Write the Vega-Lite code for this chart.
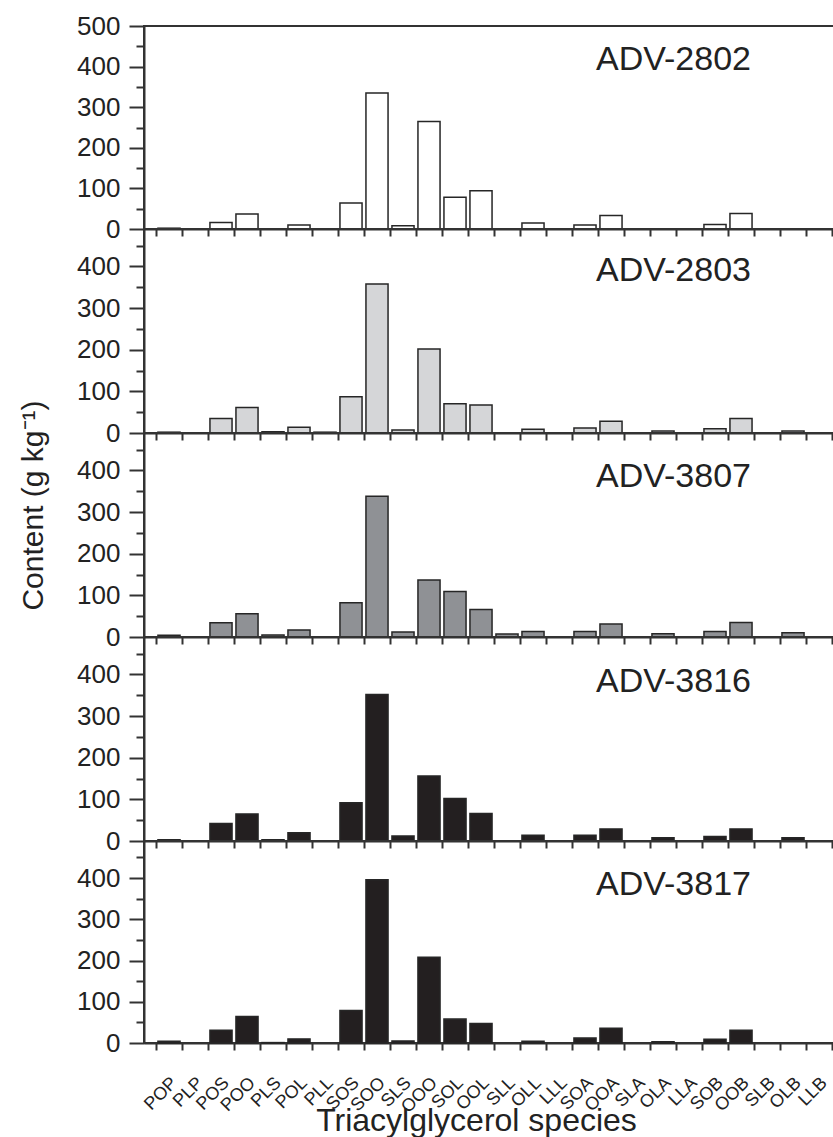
{
  "$schema": "https://vega.github.io/schema/vega-lite/v6.json",
  "padding": {"left": 17, "top": 12, "right": 0, "bottom": 0},
  "background": "white",
  "config": {
    "font": "Liberation Sans",
    "view": {"stroke": "#333", "strokeWidth": 2},
    "axis": {
      "domainColor": "#333", "domainWidth": 2, "tickColor": "#333", "tickWidth": 2,
      "labelFont": "Liberation Sans", "labelColor": "#222", "titleFont": "Liberation Sans",
      "titleColor": "#222", "titleFontWeight": "normal", "grid": false
    },
    "title": {"font": "Liberation Sans", "fontWeight": "normal", "color": "#222", "fontSize": 34}
  },
  "datasets": {
    "tag": [
      {"cultivar": "ADV-2802", "species": "POP", "content": 2},
      {"cultivar": "ADV-2802", "species": "POS", "content": 16},
      {"cultivar": "ADV-2802", "species": "POO", "content": 37},
      {"cultivar": "ADV-2802", "species": "POL", "content": 10},
      {"cultivar": "ADV-2802", "species": "SOS", "content": 64},
      {"cultivar": "ADV-2802", "species": "SOO", "content": 335},
      {"cultivar": "ADV-2802", "species": "SLS", "content": 8},
      {"cultivar": "ADV-2802", "species": "OOO", "content": 265},
      {"cultivar": "ADV-2802", "species": "SOL", "content": 78},
      {"cultivar": "ADV-2802", "species": "OOL", "content": 94},
      {"cultivar": "ADV-2802", "species": "OLL", "content": 15},
      {"cultivar": "ADV-2802", "species": "SOA", "content": 10},
      {"cultivar": "ADV-2802", "species": "OOA", "content": 33},
      {"cultivar": "ADV-2802", "species": "SOB", "content": 11},
      {"cultivar": "ADV-2802", "species": "OOB", "content": 38},

      {"cultivar": "ADV-2803", "species": "POP", "content": 2},
      {"cultivar": "ADV-2803", "species": "POS", "content": 35},
      {"cultivar": "ADV-2803", "species": "POO", "content": 61},
      {"cultivar": "ADV-2803", "species": "PLS", "content": 3},
      {"cultivar": "ADV-2803", "species": "POL", "content": 14},
      {"cultivar": "ADV-2803", "species": "PLL", "content": 2},
      {"cultivar": "ADV-2803", "species": "SOS", "content": 87},
      {"cultivar": "ADV-2803", "species": "SOO", "content": 358},
      {"cultivar": "ADV-2803", "species": "SLS", "content": 7},
      {"cultivar": "ADV-2803", "species": "OOO", "content": 202},
      {"cultivar": "ADV-2803", "species": "SOL", "content": 70},
      {"cultivar": "ADV-2803", "species": "OOL", "content": 67},
      {"cultivar": "ADV-2803", "species": "OLL", "content": 9},
      {"cultivar": "ADV-2803", "species": "SOA", "content": 12},
      {"cultivar": "ADV-2803", "species": "OOA", "content": 28},
      {"cultivar": "ADV-2803", "species": "OLA", "content": 5},
      {"cultivar": "ADV-2803", "species": "SOB", "content": 10},
      {"cultivar": "ADV-2803", "species": "OOB", "content": 35},
      {"cultivar": "ADV-2803", "species": "OLB", "content": 5},

      {"cultivar": "ADV-3807", "species": "POP", "content": 4},
      {"cultivar": "ADV-3807", "species": "POS", "content": 34},
      {"cultivar": "ADV-3807", "species": "POO", "content": 56},
      {"cultivar": "ADV-3807", "species": "PLS", "content": 5},
      {"cultivar": "ADV-3807", "species": "POL", "content": 17},
      {"cultivar": "ADV-3807", "species": "SOS", "content": 82},
      {"cultivar": "ADV-3807", "species": "SOO", "content": 338},
      {"cultivar": "ADV-3807", "species": "SLS", "content": 12},
      {"cultivar": "ADV-3807", "species": "OOO", "content": 137},
      {"cultivar": "ADV-3807", "species": "SOL", "content": 109},
      {"cultivar": "ADV-3807", "species": "OOL", "content": 66},
      {"cultivar": "ADV-3807", "species": "SLL", "content": 7},
      {"cultivar": "ADV-3807", "species": "OLL", "content": 13},
      {"cultivar": "ADV-3807", "species": "SOA", "content": 13},
      {"cultivar": "ADV-3807", "species": "OOA", "content": 31},
      {"cultivar": "ADV-3807", "species": "OLA", "content": 8},
      {"cultivar": "ADV-3807", "species": "SOB", "content": 13},
      {"cultivar": "ADV-3807", "species": "OOB", "content": 35},
      {"cultivar": "ADV-3807", "species": "OLB", "content": 10},

      {"cultivar": "ADV-3816", "species": "POP", "content": 3},
      {"cultivar": "ADV-3816", "species": "POS", "content": 42},
      {"cultivar": "ADV-3816", "species": "POO", "content": 65},
      {"cultivar": "ADV-3816", "species": "PLS", "content": 3},
      {"cultivar": "ADV-3816", "species": "POL", "content": 20},
      {"cultivar": "ADV-3816", "species": "SOS", "content": 92},
      {"cultivar": "ADV-3816", "species": "SOO", "content": 352},
      {"cultivar": "ADV-3816", "species": "SLS", "content": 12},
      {"cultivar": "ADV-3816", "species": "OOO", "content": 156},
      {"cultivar": "ADV-3816", "species": "SOL", "content": 102},
      {"cultivar": "ADV-3816", "species": "OOL", "content": 66},
      {"cultivar": "ADV-3816", "species": "OLL", "content": 14},
      {"cultivar": "ADV-3816", "species": "SOA", "content": 14},
      {"cultivar": "ADV-3816", "species": "OOA", "content": 29},
      {"cultivar": "ADV-3816", "species": "OLA", "content": 8},
      {"cultivar": "ADV-3816", "species": "SOB", "content": 11},
      {"cultivar": "ADV-3816", "species": "OOB", "content": 29},
      {"cultivar": "ADV-3816", "species": "OLB", "content": 8},

      {"cultivar": "ADV-3817", "species": "POP", "content": 4},
      {"cultivar": "ADV-3817", "species": "POS", "content": 31},
      {"cultivar": "ADV-3817", "species": "POO", "content": 64},
      {"cultivar": "ADV-3817", "species": "PLS", "content": 1},
      {"cultivar": "ADV-3817", "species": "POL", "content": 10},
      {"cultivar": "ADV-3817", "species": "SOS", "content": 79},
      {"cultivar": "ADV-3817", "species": "SOO", "content": 396},
      {"cultivar": "ADV-3817", "species": "SLS", "content": 5},
      {"cultivar": "ADV-3817", "species": "OOO", "content": 208},
      {"cultivar": "ADV-3817", "species": "SOL", "content": 58},
      {"cultivar": "ADV-3817", "species": "OOL", "content": 47},
      {"cultivar": "ADV-3817", "species": "OLL", "content": 4},
      {"cultivar": "ADV-3817", "species": "SOA", "content": 12},
      {"cultivar": "ADV-3817", "species": "OOA", "content": 36},
      {"cultivar": "ADV-3817", "species": "OLA", "content": 3},
      {"cultivar": "ADV-3817", "species": "SOB", "content": 9},
      {"cultivar": "ADV-3817", "species": "OOB", "content": 31}
    ]
  },
  "data": {"name": "tag"},
  "spacing": 0,
  "bounds": "flush",
  "vconcat": [
    {
      "width": 700, "height": 203,
      "title": {"text": "ADV-2802", "anchor": "end", "frame": "group", "baseline": "alphabetic", "offset": -91, "dx": -93},
      "transform": [{"filter": "datum.cultivar === 'ADV-2802'"}],
      "mark": {"type": "bar", "width": {"band": 0.85}, "fill": "#ffffff", "stroke": "#262626", "strokeWidth": 1.5},
      "encoding": {
        "x": {"field": "species", "type": "nominal",
          "scale": {"domain": ["POP","PLP","POS","POO","PLS","POL","PLL","SOS","SOO","SLS","OOO","SOL","OOL","SLL","OLL","LLL","SOA","OOA","SLA","OLA","LLA","SOB","OOB","SLB","OLB","LLB"], "paddingInner": 0, "paddingOuter": 0.4615},
          "axis": {"tickBand": "extent", "tickSize": 7, "labels": false, "title": null}},
        "y": {"field": "content", "type": "quantitative", "scale": {"domain": [0, 500], "nice": false},
          "axis": {"values": [0,50,100,150,200,250,300,350,400,450,500], "labelExpr": "datum.value % 100 === 0 ? datum.label : ''",
            "tickSize": {"condition": {"test": "datum.value % 100 === 0", "value": 15}, "value": 8},
            "labelFontSize": 26, "labelPadding": 9, "title": null}}
      }
    },
    {
      "width": 700, "height": 204,
      "title": {"text": "ADV-2803", "anchor": "end", "frame": "group", "baseline": "alphabetic", "offset": -86, "dx": -93},
      "transform": [{"filter": "datum.cultivar === 'ADV-2803'"}],
      "mark": {"type": "bar", "width": {"band": 0.85}, "fill": "#d5d6d8", "stroke": "#262626", "strokeWidth": 1.5},
      "encoding": {
        "x": {"field": "species", "type": "nominal",
          "scale": {"domain": ["POP","PLP","POS","POO","PLS","POL","PLL","SOS","SOO","SLS","OOO","SOL","OOL","SLL","OLL","LLL","SOA","OOA","SLA","OLA","LLA","SOB","OOB","SLB","OLB","LLB"], "paddingInner": 0, "paddingOuter": 0.4615},
          "axis": {"tickBand": "extent", "tickSize": 7, "labels": false, "title": null}},
        "y": {"field": "content", "type": "quantitative", "scale": {"domain": [0, 490], "nice": false},
          "axis": {"values": [0,50,100,150,200,250,300,350,400,450], "labelExpr": "datum.value % 100 === 0 ? datum.label : ''",
            "tickSize": {"condition": {"test": "datum.value % 100 === 0", "value": 15}, "value": 8},
            "labelFontSize": 26, "labelPadding": 9, "title": null}}
      }
    },
    {
      "width": 700, "height": 204,
      "title": {"text": "ADV-3807", "anchor": "end", "frame": "group", "baseline": "alphabetic", "offset": -121, "dx": -93},
      "transform": [{"filter": "datum.cultivar === 'ADV-3807'"}],
      "mark": {"type": "bar", "width": {"band": 0.85}, "fill": "#8f9195", "stroke": "#262626", "strokeWidth": 1.5},
      "encoding": {
        "x": {"field": "species", "type": "nominal",
          "scale": {"domain": ["POP","PLP","POS","POO","PLS","POL","PLL","SOS","SOO","SLS","OOO","SOL","OOL","SLL","OLL","LLL","SOA","OOA","SLA","OLA","LLA","SOB","OOB","SLB","OLB","LLB"], "paddingInner": 0, "paddingOuter": 0.4615},
          "axis": {"tickBand": "extent", "tickSize": 7, "labels": false, "title": null}},
        "y": {"field": "content", "type": "quantitative", "scale": {"domain": [0, 490], "nice": false},
          "axis": {"values": [0,50,100,150,200,250,300,350,400,450], "labelExpr": "datum.value % 100 === 0 ? datum.label : ''",
            "tickSize": {"condition": {"test": "datum.value % 100 === 0", "value": 15}, "value": 8},
            "labelFontSize": 26, "labelPadding": 9,
            "title": "Content (g kg⁻¹)", "titleFontSize": 30, "titlePadding": 28, "titleY": 72}}
      }
    },
    {
      "width": 700, "height": 204,
      "title": {"text": "ADV-3816", "anchor": "end", "frame": "group", "baseline": "alphabetic", "offset": -89, "dx": -93},
      "transform": [{"filter": "datum.cultivar === 'ADV-3816'"}],
      "mark": {"type": "bar", "width": {"band": 0.85}, "fill": "#231f20", "stroke": "#262626", "strokeWidth": 1.5},
      "encoding": {
        "x": {"field": "species", "type": "nominal",
          "scale": {"domain": ["POP","PLP","POS","POO","PLS","POL","PLL","SOS","SOO","SLS","OOO","SOL","OOL","SLL","OLL","LLL","SOA","OOA","SLA","OLA","LLA","SOB","OOB","SLB","OLB","LLB"], "paddingInner": 0, "paddingOuter": 0.4615},
          "axis": {"tickBand": "extent", "tickSize": 7, "labels": false, "title": null}},
        "y": {"field": "content", "type": "quantitative", "scale": {"domain": [0, 490], "nice": false},
          "axis": {"values": [0,50,100,150,200,250,300,350,400,450], "labelExpr": "datum.value % 100 === 0 ? datum.label : ''",
            "tickSize": {"condition": {"test": "datum.value % 100 === 0", "value": 15}, "value": 8},
            "labelFontSize": 26, "labelPadding": 9, "title": null}}
      }
    },
    {
      "width": 700, "height": 202,
      "title": {"text": "ADV-3817", "anchor": "end", "frame": "group", "baseline": "alphabetic", "offset": -88, "dx": -93},
      "transform": [{"filter": "datum.cultivar === 'ADV-3817'"}],
      "mark": {"type": "bar", "width": {"band": 0.85}, "fill": "#231f20", "stroke": "#262626", "strokeWidth": 1.5},
      "encoding": {
        "x": {"field": "species", "type": "nominal",
          "scale": {"domain": ["POP","PLP","POS","POO","PLS","POL","PLL","SOS","SOO","SLS","OOO","SOL","OOL","SLL","OLL","LLL","SOA","OOA","SLA","OLA","LLA","SOB","OOB","SLB","OLB","LLB"], "paddingInner": 0, "paddingOuter": 0.4615},
          "axis": {"tickBand": "extent", "tickSize": 7, "labelAngle": -45, "labelAlign": "right", "labelBaseline": "middle",
            "labelFontSize": 18, "labelPadding": 30, "labelOffset": 5,
            "title": "Triacylglycerol species", "titleFontSize": 32, "titleBaseline": "alphabetic", "titleY": 87, "titleX": 332}},
        "y": {"field": "content", "type": "quantitative", "scale": {"domain": [0, 490], "nice": false},
          "axis": {"values": [0,50,100,150,200,250,300,350,400,450], "labelExpr": "datum.value % 100 === 0 ? datum.label : ''",
            "tickSize": {"condition": {"test": "datum.value % 100 === 0", "value": 15}, "value": 8},
            "labelFontSize": 26, "labelPadding": 9, "title": null}}
      }
    }
  ]
}
